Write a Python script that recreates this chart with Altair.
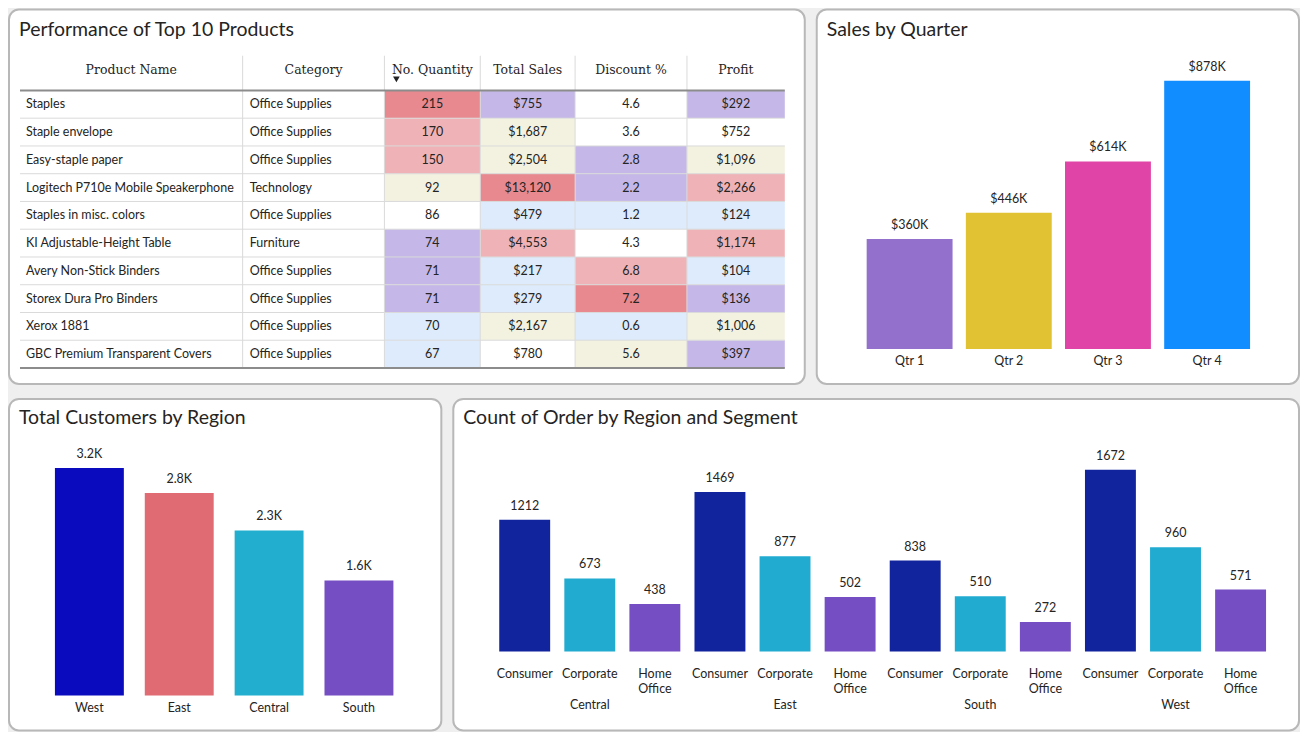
import altair as alt
import pandas as pd

FONT = "Lato"
SERIF = "DejaVu Serif"
TXT = "#252423"

# ---------------- data ----------------
products = ["Staples", "Staple envelope", "Easy-staple paper",
            "Logitech P710e Mobile Speakerphone", "Staples in misc. colors",
            "KI Adjustable-Height Table", "Avery Non-Stick Binders",
            "Storex Dura Pro Binders", "Xerox 1881", "GBC Premium Transparent Covers"]
categories = ["Office Supplies", "Office Supplies", "Office Supplies", "Technology",
              "Office Supplies", "Furniture", "Office Supplies", "Office Supplies",
              "Office Supplies", "Office Supplies"]
quantity = [215, 170, 150, 92, 86, 74, 71, 71, 70, 67]
total_sales = [755, 1687, 2504, 13120, 479, 4553, 217, 279, 2167, 780]
discount_pct = [4.6, 3.6, 2.8, 2.2, 1.2, 4.3, 6.8, 7.2, 0.6, 5.6]
profit = [292, 752, 1096, 2266, 124, 1174, 104, 136, 1006, 397]
# conditional-formatting band of each cell
quantity_band = ["high", "upper", "upper", "mid", "neutral", "lower", "lower", "lower", "low", "low"]
sales_band = ["lower", "mid", "mid", "high", "low", "upper", "low", "low", "mid", "neutral"]
discount_band = ["neutral", "neutral", "lower", "lower", "low", "neutral", "upper", "high", "low", "mid"]
profit_band = ["lower", "neutral", "mid", "upper", "low", "upper", "low", "lower", "mid", "lower"]
headers = ["Product Name", "Category", "No. Quantity", "Total Sales", "Discount %", "Profit"]

quarters = ["Qtr 1", "Qtr 2", "Qtr 3", "Qtr 4"]
quarter_sales_k = [360, 446, 614, 878]

regions = ["West", "East", "Central", "South"]
customers = [3203, 2848, 2323, 1620]

order_regions = ["Central", "East", "South", "West"]
segments = ["Consumer", "Corporate", "Home Office"]
central_orders = [1212, 673, 438]
east_orders = [1469, 877, 502]
south_orders = [838, 510, 272]
west_orders = [1672, 960, 571]

# ---------------- styling ----------------
band_names = ["high", "upper", "mid", "neutral", "lower", "low"]
band_colors = ["#E8898F", "#EFB3B7", "#F3F2E1", "#FFFFFF", "#C5B8E8", "#DDEBFC"]
quarter_colors = ["#9370CC", "#E0C233", "#E044A7", "#118DFF"]
region_colors = ["#0A0ABF", "#E06B73", "#21AECF", "#744EC2"]
segment_colors = ["#12239E", "#21ABD0", "#744EC2"]

PANEL = alt.ViewBackground(fill="white", stroke="#b8b8b8", strokeWidth=2, cornerRadius=10)
TOP_H, BOT_H = 375, 332


def title_layer(text, x, y):
    return alt.Chart(pd.DataFrame({"t": [text]})).mark_text(
        align="left", baseline="middle", fontSize=19.5, font=FONT, color=TXT
    ).encode(x=alt.value(x), y=alt.value(y), text="t:N")


# ---------------- table panel ----------------
T_W = 797
col_edges = [11, 234, 376, 472, 567, 679, 777]
xs = alt.Scale(domain=[0, T_W], range=[0, T_W], nice=False, zero=False)
ys = alt.Scale(domain=[0, 10], range=[81, 359], nice=False, zero=False)

num_cols = [
    (quantity, quantity_band, lambda v: f"{v}"),
    (total_sales, sales_band, lambda v: f"${v:,}"),
    (discount_pct, discount_band, lambda v: f"{v:.1f}"),
    (profit, profit_band, lambda v: f"${v:,}"),
]
cell_rows, text_rows = [], []
for i in range(len(products)):
    text_rows.append(dict(row=i + 0.5, xl=col_edges[0] + 6, label=products[i]))
    text_rows.append(dict(row=i + 0.5, xl=col_edges[1] + 7, label=categories[i]))
    for c, (vals, bands, fmt) in enumerate(num_cols):
        x0, x1 = col_edges[c + 2], col_edges[c + 3]
        cell_rows.append(dict(r0=i, r1=i + 1, mid=i + 0.5, x0=x0, x1=x1, xc=(x0 + x1) / 2,
                              band=bands[i], label=fmt(vals[i])))
cells = pd.DataFrame(cell_rows)
texts = pd.DataFrame(text_rows)
hdr = pd.DataFrame({"h": headers,
                    "xc": [(col_edges[k] + col_edges[k + 1]) / 2 for k in range(6)],
                    "y": [-0.75] * 6})
hlines = pd.DataFrame({"y": list(range(1, 10)), "x0": [col_edges[0]] * 9, "x1": [col_edges[-1]] * 9})
vlines = pd.DataFrame({"x": col_edges[1:-1], "y0": [-1.25] * 5, "y1": [10] * 5})
thick = pd.DataFrame({"y": [0, 10], "x0": [col_edges[0]] * 2, "x1": [col_edges[-1]] * 2})
arrow = pd.DataFrame({"x": [col_edges[2] + 12], "y": [-0.4]})

rects = alt.Chart(cells).mark_rect().encode(
    x=alt.X("x0:Q", scale=xs, axis=None), x2="x1:Q",
    y=alt.Y("r0:Q", scale=ys, axis=None), y2="r1:Q",
    color=alt.Color("band:N", scale=alt.Scale(domain=band_names, range=band_colors), legend=None),
)
hl = alt.Chart(hlines).mark_rule(color="#dadada", strokeWidth=1).encode(
    x=alt.X("x0:Q", scale=xs, axis=None), x2="x1:Q", y=alt.Y("y:Q", scale=ys, axis=None))
vl = alt.Chart(vlines).mark_rule(color="#dadada", strokeWidth=1).encode(
    x=alt.X("x:Q", scale=xs, axis=None), y=alt.Y("y0:Q", scale=ys, axis=None), y2="y1:Q")
th = alt.Chart(thick).mark_rule(color="#8c8c8c", strokeWidth=2).encode(
    x=alt.X("x0:Q", scale=xs, axis=None), x2="x1:Q", y=alt.Y("y:Q", scale=ys, axis=None))
hdr_t = alt.Chart(hdr).mark_text(font=SERIF, fontSize=12.5, color=TXT, baseline="middle").encode(
    x=alt.X("xc:Q", scale=xs, axis=None), y=alt.Y("y:Q", scale=ys, axis=None), text="h:N")
arr = alt.Chart(arrow).mark_point(shape="triangle-down", filled=True, size=45, color="#222", opacity=1).encode(
    x=alt.X("x:Q", scale=xs, axis=None), y=alt.Y("y:Q", scale=ys, axis=None))
left_t = alt.Chart(texts).mark_text(font=FONT, fontSize=12.5, color=TXT, align="left", baseline="middle").encode(
    x=alt.X("xl:Q", scale=xs, axis=None), y=alt.Y("row:Q", scale=ys, axis=None), text="label:N")
num_t = alt.Chart(cells).mark_text(font=FONT, fontSize=12.5, color=TXT, baseline="middle").encode(
    x=alt.X("xc:Q", scale=xs, axis=None), y=alt.Y("mid:Q", scale=ys, axis=None), text="label:N")

table_panel = alt.layer(
    rects, hl, vl, th, hdr_t, arr, left_t, num_t,
    title_layer("Performance of Top 10 Products", 10, 20),
).properties(width=T_W, height=TOP_H, view=PANEL)

# ---------------- sales by quarter ----------------
q_df = pd.DataFrame({"quarter": quarters, "sales_k": quarter_sales_k})
q_df["label"] = "$" + q_df["sales_k"].astype(str) + "K"
xq = alt.X("quarter:N", sort=quarters, axis=None,
           scale=alt.Scale(domain=quarters, range=[50, 434], paddingInner=0.134, paddingOuter=0))
yq = alt.Y("sales_k:Q", axis=None, scale=alt.Scale(domain=[0, 1000], range=[340, 34], nice=False))
q_bars = alt.Chart(q_df).mark_bar().encode(
    x=xq, y=yq,
    color=alt.Color("quarter:N", scale=alt.Scale(domain=quarters, range=quarter_colors), legend=None))
q_vals = alt.Chart(q_df).mark_text(dy=-14, font=FONT, fontSize=12.5, color=TXT, baseline="middle").encode(
    x=xq, y=yq, text="label:N")
q_cats = alt.Chart(q_df).mark_text(font=FONT, fontSize=12.5, color=TXT, baseline="middle").encode(
    x=xq, y=alt.value(352), text="quarter:N")
quarter_panel = alt.layer(q_bars, q_vals, q_cats, title_layer("Sales by Quarter", 10, 20)).properties(
    width=483, height=TOP_H, view=PANEL)

# ---------------- customers by region ----------------
r_df = pd.DataFrame({"region": regions, "customers": customers})
r_df["label"] = (r_df["customers"] / 1000).map(lambda v: f"{v:.1f}K")
xr = alt.X("region:N", sort=regions, axis=None,
           scale=alt.Scale(domain=regions, range=[46, 385], paddingInner=0.233, paddingOuter=0))
yr = alt.Y("customers:Q", axis=None, scale=alt.Scale(domain=[0, 3500], range=[297, 47.9], nice=False))
r_bars = alt.Chart(r_df).mark_bar().encode(
    x=xr, y=yr,
    color=alt.Color("region:N", scale=alt.Scale(domain=regions, range=region_colors), legend=None))
r_vals = alt.Chart(r_df).mark_text(dy=-14, font=FONT, fontSize=12.5, color=TXT, baseline="middle").encode(
    x=xr, y=yr, text="label:N")
r_cats = alt.Chart(r_df).mark_text(font=FONT, fontSize=12.5, color=TXT, baseline="middle").encode(
    x=xr, y=alt.value(310), text="region:N")
region_panel = alt.layer(r_bars, r_vals, r_cats, title_layer("Total Customers by Region", 10, 19)).properties(
    width=433, height=BOT_H, view=PANEL)

# ---------------- count of order by region and segment ----------------
orders = {"Central": central_orders, "East": east_orders, "South": south_orders, "West": west_orders}
o_rows = []
for reg in order_regions:
    for seg, cnt in zip(segments, orders[reg]):
        o_rows.append(dict(key=f"{reg}|{seg}", region=reg, segment=seg, count=cnt))
o_df = pd.DataFrame(o_rows)
o_df["label"] = o_df["count"].astype(str)
keys = list(o_df["key"])
reg_df = pd.DataFrame({"region": order_regions, "key": [f"{r}|Corporate" for r in order_regions]})
o_scale = alt.Scale(domain=keys, range=[46, 814], paddingInner=0.2176, paddingOuter=0)
xo = alt.X("key:N", sort=keys, axis=None, scale=o_scale)
yo = alt.Y("count:Q", axis=None, scale=alt.Scale(domain=[0, 2000], range=[253, 35.3], nice=False))
o_bars = alt.Chart(o_df).mark_bar().encode(
    x=xo, y=yo,
    color=alt.Color("segment:N", scale=alt.Scale(domain=segments, range=segment_colors), legend=None))
o_vals = alt.Chart(o_df).mark_text(dy=-14, font=FONT, fontSize=12.5, color=TXT, baseline="middle").encode(
    x=xo, y=yo, text="label:N")
o_segs = alt.Chart(o_df).mark_text(font=FONT, fontSize=12.5, color=TXT, baseline="top",
                                   lineBreak=" ", lineHeight=16).encode(
    x=xo, y=alt.value(269), text="segment:N")
o_regs = alt.Chart(reg_df).mark_text(font=FONT, fontSize=12.5, color=TXT, baseline="middle").encode(
    x=alt.X("key:N", sort=keys, axis=None, scale=o_scale),
    y=alt.value(307), text="region:N")
order_panel = alt.layer(o_bars, o_vals, o_segs, o_regs,
                        title_layer("Count of Order by Region and Segment", 10, 19)).properties(
    width=847, height=BOT_H, view=PANEL)

top = alt.hconcat(table_panel, quarter_panel, spacing=10).resolve_scale(color="independent")
bottom = alt.hconcat(region_panel, order_panel, spacing=10).resolve_scale(color="independent")
chart = alt.vconcat(top, bottom, spacing=13).resolve_scale(color="independent").properties(
    padding=0, background="#efefef")

chart.save("out.html", embed_options={"renderer": "svg", "actions": False})
